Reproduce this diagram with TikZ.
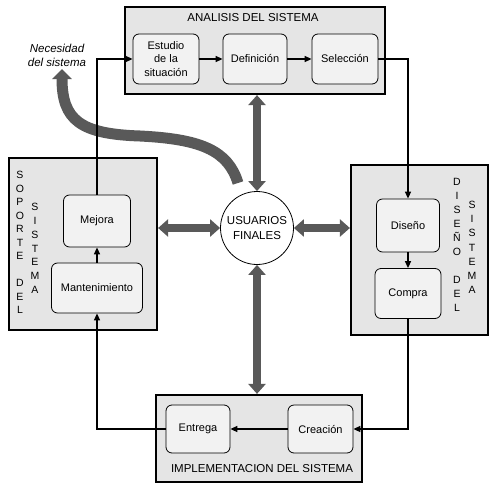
\documentclass[tikz,border=0pt]{standalone}
\usepackage{fontspec}
\setmainfont{Liberation Sans}
\usetikzlibrary{arrows.meta}

\begin{document}
\begin{tikzpicture}[x=1pt, y=-1pt,
    bigbox/.style={draw, line width=2.2pt, fill=black!10, inner sep=0pt},
    paso/.style={draw, line width=0.8pt, rounded corners=6pt, fill=black!5, align=center,
      minimum height=50pt, inner sep=2pt, font=\fontsize{11}{13.5}\selectfont},
    titulo/.style={font=\fontsize{11.5}{13}\selectfont, inner sep=0pt},
    vert/.style={align=center, inner sep=0pt},
    flecha/.style={line width=1.5pt, -{Triangle[length=7pt,width=6pt]}},
    gruesa/.style={line width=8pt, draw=black!65,
      {Triangle[length=10pt,width=17pt]}-{Triangle[length=10pt,width=17pt]}}
  ]
  \useasboundingbox (0,0) rectangle (500,487);

  % grandes bloques
  \node [bigbox, minimum width=260pt, minimum height=87pt] (analisis) at (255,50.5) {};
  \node [bigbox, minimum width=148pt, minimum height=172pt] (soporte) at (83,244) {};
  \node [bigbox, minimum width=137pt, minimum height=170pt] (disbox) at (419.5,250) {};
  \node [bigbox, minimum width=206pt, minimum height=87pt] (implem) at (259,438.5) {};

  \node [titulo] (tanalisis) at (253,18) {ANALISIS DEL SISTEMA};
  \node [titulo] (timplem) at (262,469) {IMPLEMENTACION DEL SISTEMA};

  \node [vert, font=\fontsize{10.5}{13.5}\selectfont] (tsop1) at (20,242.5)
    {S\\O\\P\\O\\R\\T\\E\\[13.5pt]D\\E\\L};
  \node [vert, font=\fontsize{10.5}{13.8}\selectfont] (tsop2) at (35,248.5)
    {S\\I\\S\\T\\E\\M\\A};
  \node [vert, font=\fontsize{10.5}{14}\selectfont] (tdis1) at (457,245)
    {D\\I\\S\\E\\Ñ\\O\\[14pt]D\\E\\L};
  \node [vert, font=\fontsize{10.5}{14.2}\selectfont] (tdis2) at (472,247.5)
    {S\\I\\S\\T\\E\\M\\A};

  % pasos
  \node [paso, minimum width=66pt] (estudio) at (166,59) {Estudio\\de la\\situación};
  \node [paso, minimum width=64pt] (definicion) at (255,59) {Definición};
  \node [paso, minimum width=66pt] (seleccion) at (345,59) {Selección};
  \node [paso, minimum width=63pt, minimum height=53pt] (diseno) at (408,225.5) {Diseño};
  \node [paso, minimum width=66pt] (compra) at (408,293.5) {Compra};
  \node [paso, minimum width=67pt, minimum height=52pt] (mejora) at (97,221) {Mejora};
  \node [paso, minimum width=91pt] (mant) at (97,288) {Mantenimiento};
  \node [paso, minimum width=64pt, minimum height=48pt] (entrega) at (198,429) {Entrega};
  \node [paso, minimum width=65pt, minimum height=48pt] (creacion) at (320.5,429) {Creación};

  \node [circle, draw, line width=0.8pt, fill=white, minimum size=73pt, align=center,
    font=\fontsize{11.5}{15}\selectfont] (usuarios) at (257,228) {USUARIOS\\FINALES};

  \node [align=center, inner sep=0pt, font=\fontsize{11.5}{14}\selectfont\itshape]
    (necesidad) at (57,55) {Necesidad\\del sistema};

  % flecha curva
  \coordinate (cola) at (238,183);
  \coordinate (punta) at (62,69);
  \draw [line width=11pt, draw=black!65, -{Triangle[length=10pt,width=19pt]}]
    (cola) .. controls (228,150) and (200,139) .. (140,136)
    .. controls (80,134) and (62,120) .. (punta);

  % conexiones
  \draw [flecha] (estudio) -- (definicion);
  \draw [flecha] (definicion) -- (seleccion);
  \draw [flecha] (seleccion.east) -| (diseno.north);
  \draw [flecha] (diseno) -- (compra);
  \draw [flecha] (compra.south) |- (creacion.east);
  \draw [flecha] (creacion) -- (entrega);
  \draw [flecha] (entrega.west) -| (mant.south);
  \draw [flecha] (mant) -- (mejora);
  \draw [flecha] (mejora.north) |- (estudio.west);

  % flechas dobles
  \draw [gruesa] (analisis.south -| usuarios.north) -- (usuarios.north);
  \draw [gruesa] (soporte.east |- usuarios.west) -- (usuarios.west);
  \draw [gruesa] (usuarios.east) -- (disbox.west |- usuarios.east);
  \draw [gruesa] (usuarios.south) -- (implem.north -| usuarios.south);
\end{tikzpicture}
\end{document}
